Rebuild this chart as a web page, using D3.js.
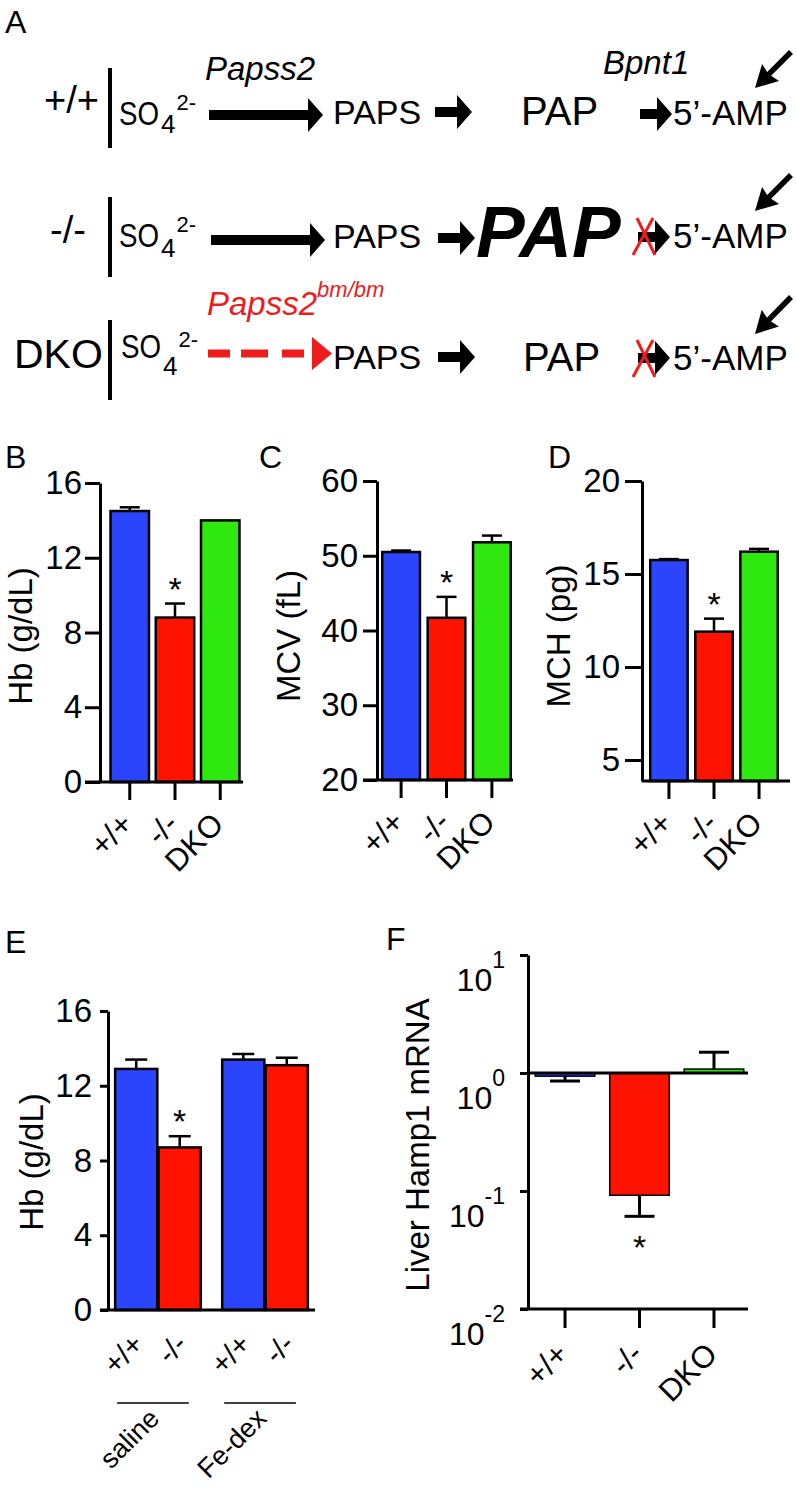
<!DOCTYPE html>
<html><head><meta charset="utf-8">
<script src="https://cdn.jsdelivr.net/npm/d3@7"></script>
<style>body{margin:0;background:#fff} svg{display:block} text{font-family:"Liberation Sans",Arial,Helvetica,sans-serif;fill:#000}</style>
</head><body>
<script>
// ---------------- data ----------------
const genotypes = ["+/+", "-/-", "DKO"];
const hbValues = [14.5, 8.8, 14.0];
const hbErrors = [0.2, 0.75, 0.0];
const mcvValues = [50.5, 41.7, 51.8];
const mcvErrors = [0.2, 2.8, 0.9];
const mchValues = [15.75, 11.9, 16.2];
const mchErrors = [0.05, 0.7, 0.15];
const significant = [false, true, false];

const treatGroups = ["saline", "Fe-dex"];
const treatGenotypes = ["+/+", "-/-"];
const treatHb = [[12.9, 8.7], [13.4, 13.1]];
const treatHbErrors = [[0.5, 0.6], [0.3, 0.4]];
const treatSignificant = [[false, true], [false, false]];

const hampValues = [0.94, 0.092, 1.08];
const hampErrorEnds = [0.855, 0.061, 1.5];

const hbTicks = [0, 4, 8, 12, 16];
const mcvTicks = [20, 30, 40, 50, 60];
const mchTicks = [5, 10, 15, 20];
const hampTickExponents = [-2, -1, 0, 1];

const colors = {"+/+": "#2a45fc", "-/-": "#fe1200", "DKO": "#2fe80f"};

// ---------------- setup ----------------
const svg = d3.select("body").append("svg").attr("width", 796).attr("height", 1488);
const AX = 3, BAR = 2.5;

function txt(g, x, y, s, size, o = {}) {
  const t = g.append("text").attr("x", x).attr("y", y).attr("font-size", size).text(s);
  if (o.anchor) t.attr("text-anchor", o.anchor);
  if (o.italic) t.attr("font-style", "italic");
  if (o.bold) t.attr("font-weight", "bold");
  if (o.fill) t.style("fill", o.fill);
  if (o.rotate !== undefined) t.attr("transform", `rotate(${o.rotate},${x},${y})`);
  return t;
}

// ---------------- panel A ----------------
const A = svg.append("g");
txt(A, 5, 33, "A", 32);

function blockArrow(g, x0, x1, yc, shaft, headLen, headHalf, fill) {
  const xh = x1 - headLen;
  const pts = [[x0, yc - shaft / 2], [xh, yc - shaft / 2], [xh, yc - headHalf], [x1, yc],
               [xh, yc + headHalf], [xh, yc + shaft / 2], [x0, yc + shaft / 2]];
  g.append("path").attr("d", d3.line()(pts) + "Z").attr("fill", fill || "#000");
}
function diagArrow(g, tx, ty, hx, hy) {
  const ang = Math.atan2(hy - ty, hx - tx);
  const L = Math.hypot(hx - tx, hy - ty);
  const gg = g.append("g").attr("transform", `translate(${tx},${ty}) rotate(${ang * 180 / Math.PI})`);
  gg.append("path").attr("d", d3.line()([[0, -2.8], [L - 20, -2.8], [L - 22, -12], [L, 0], [L - 22, 12], [L - 20, 2.8], [0, 2.8]]) + "Z");
}
function redX(g, x0, y0, x1, y1) {
  g.append("line").attr("x1", x0 + 4).attr("y1", y0).attr("x2", x1 - 2).attr("y2", y1).attr("stroke", "#ee1c1c").attr("stroke-width", 3);
  g.append("line").attr("x1", x1 - 4).attr("y1", y0).attr("x2", x0).attr("y2", y1).attr("stroke", "#ee1c1c").attr("stroke-width", 3);
}
function so4(g, x, base, subBase, supBase) {
  const t = g.append("text").attr("x", x).attr("y", base).attr("font-size", 33);
  t.append("tspan").attr("textLength", 40).attr("lengthAdjust", "spacingAndGlyphs").text("SO");
  t.append("tspan").attr("dx", 2).attr("dy", subBase - base).attr("font-size", 26).text("4");
  t.append("tspan").attr("dx", 1).attr("dy", supBase - subBase).attr("font-size", 22).text("2-");
}

// row 1
txt(A, 44, 113, "+/+", 38);
A.append("rect").attr("x", 108).attr("y", 68).attr("width", 4).attr("height", 80);
so4(A, 119, 125, 133, 110);
txt(A, 205, 80, "Papss2", 33, {italic: true});
blockArrow(A, 209, 323, 115, 10, 15, 17);
txt(A, 333, 124, "PAPS", 34);
blockArrow(A, 435, 472, 112, 10, 15, 17);
txt(A, 521, 125, "PAP", 40);
txt(A, 603, 74, "Bpnt1", 33, {italic: true});
blockArrow(A, 640, 672, 114, 10, 15, 17);
txt(A, 673, 125, "5\u2019-AMP", 35);
diagArrow(A, 791, 52, 755, 88);

// row 2
txt(A, 50, 243, "-/-", 38);
A.append("rect").attr("x", 108).attr("y", 197).attr("width", 4).attr("height", 80);
so4(A, 119, 247, 257, 232);
blockArrow(A, 211, 325, 240, 10, 15, 17);
txt(A, 333, 248, "PAPS", 34);
blockArrow(A, 438, 475, 238, 10, 15, 17);
txt(A, 476, 257, "PAP", 73, {italic: true, bold: true});
blockArrow(A, 638, 670, 237, 10, 15, 17);
redX(A, 633, 218, 657, 255);
txt(A, 673, 248, "5\u2019-AMP", 35);
diagArrow(A, 791, 175, 755, 211);

// row 3
txt(A, 14, 368, "DKO", 41);
A.append("rect").attr("x", 108).attr("y", 320).attr("width", 4).attr("height", 80);
so4(A, 121, 358, 375, 347);
const papRed = A.append("text").attr("x", 207).attr("y", 315).attr("font-size", 33).attr("font-style", "italic").style("fill", "#ee1c1c");
papRed.append("tspan").text("Papss2");
papRed.append("tspan").attr("dy", -18).attr("font-size", 22).text("bm/bm");
A.append("line").attr("x1", 208).attr("x2", 305).attr("y1", 353.5).attr("y2", 353.5)
  .attr("stroke", "#ee1c1c").attr("stroke-width", 8).attr("stroke-dasharray", "22,11,27,14,22,200");
A.append("path").attr("d", d3.line()([[312, 337], [332, 353.5], [312, 370]]) + "Z").attr("fill", "#ee1c1c");
txt(A, 333, 369, "PAPS", 34);
blockArrow(A, 438, 475, 357, 10, 15, 17);
txt(A, 523, 371, "PAP", 40);
blockArrow(A, 638, 670, 358, 10, 15, 17);
redX(A, 633, 340, 657, 377);
txt(A, 673, 370, "5\u2019-AMP", 35);
diagArrow(A, 791, 297, 755, 334);

// ---------------- bar helpers ----------------
function styleYAxis(g, size) {
  g.select(".domain").attr("stroke-width", AX);
  g.selectAll(".tick line").attr("stroke-width", AX);
  g.selectAll(".tick text").attr("font-size", size).attr("font-family", null).style("fill", "#000");
  g.attr("font-family", null);
}

function simplePanel(o) {
  const g = svg.append("g");
  txt(g, o.letter[1], o.letter[2], o.letter[0], 32);
  const y = d3.scaleLinear().domain(o.yDomain).range(o.yRange);
  const x = d3.scaleBand().domain(genotypes).range(o.xRange).paddingInner(o.pi).paddingOuter(o.po);
  const yBottom = o.yRange[0];
  g.selectAll(".bar").data(genotypes).enter().append("rect")
    .attr("x", d => x(d)).attr("width", x.bandwidth())
    .attr("y", (d, i) => y(o.values[i])).attr("height", (d, i) => yBottom - y(o.values[i]))
    .attr("fill", d => colors[d]).attr("stroke", "#000").attr("stroke-width", BAR);
  genotypes.forEach((d, i) => {
    if (o.errors[i] <= 0) return;
    const cx = x(d) + x.bandwidth() / 2, y0 = y(o.values[i]), y1 = y(o.values[i] + o.errors[i]);
    g.append("line").attr("x1", cx).attr("x2", cx).attr("y1", y0).attr("y2", y1).attr("stroke", "#000").attr("stroke-width", BAR);
    g.append("line").attr("x1", cx - 10).attr("x2", cx + 10).attr("y1", y1).attr("y2", y1).attr("stroke", "#000").attr("stroke-width", BAR);
    if (significant[i]) txt(g, cx, y1 - 22 + 19, "*", 34, {anchor: "middle"});
  });
  const ya = g.append("g").attr("transform", `translate(${o.axisX},0)`)
    .call(d3.axisLeft(y).tickValues(o.ticks).tickSize(o.tickLen).tickSizeOuter(0).tickPadding(o.tickPad));
  styleYAxis(ya, 33);
  g.append("line").attr("x1", o.xLine[0]).attr("x2", o.xLine[1]).attr("y1", yBottom).attr("y2", yBottom)
    .attr("stroke", "#000").attr("stroke-width", AX);
  const xa = g.append("g").attr("transform", `translate(0,${yBottom})`)
    .call(d3.axisBottom(x).tickSize(18).tickSizeOuter(0).tickFormat(""));
  xa.select(".domain").remove();
  xa.selectAll(".tick line").attr("stroke-width", AX);
  genotypes.forEach(d => {
    const px = x(d) + x.bandwidth() / 2 + 5, py = yBottom + 44;
    txt(g, px, py, d, 31, {anchor: "end", rotate: -45});
  });
  txt(g, o.title[1], o.title[2], o.title[0], 33, {anchor: "middle", rotate: -90});
}

simplePanel({letter: ["B", 5, 468], yDomain: [0, 16], yRange: [782, 483], ticks: hbTicks,
  xRange: [106, 244], pi: 0.15, po: 0.1, values: hbValues, errors: hbErrors,
  axisX: 100, tickLen: 15, tickPad: 3, xLine: [85, 243], title: ["Hb (g/dL)", 32, 636]});
simplePanel({letter: ["C", 259, 468], yDomain: [20, 60], yRange: [780, 481], ticks: mcvTicks,
  xRange: [380, 513], pi: 0.17, po: 0.05, values: mcvValues, errors: mcvErrors,
  axisX: 377, tickLen: 14, tickPad: 5, xLine: [363, 513], title: ["MCV (fL)", 300, 636]});
simplePanel({letter: ["D", 548, 468], yDomain: [3.87, 20], yRange: [781, 481], ticks: mchTicks,
  xRange: [648, 780], pi: 0.17, po: 0.05, values: mchValues, errors: mchErrors,
  axisX: 642, tickLen: 17, tickPad: 5, xLine: [642, 790], title: ["MCH (pg)", 570, 636]});

// ---------------- panel E ----------------
(function () {
  const g = svg.append("g");
  txt(g, 5, 953, "E", 32);
  const y = d3.scaleLinear().domain([0, 16]).range([1310, 1011]);
  const x0 = d3.scaleBand().domain(treatGroups).range([113, 310]).paddingInner(0.2).paddingOuter(0.02);
  const x1 = d3.scaleBand().domain(treatGenotypes).range([0, x0.bandwidth()]).paddingInner(0.03);
  treatGroups.forEach((grp, gi) => {
    treatGenotypes.forEach((gt, i) => {
      const bx = x0(grp) + x1(gt), v = treatHb[gi][i], e = treatHbErrors[gi][i];
      g.append("rect").attr("x", bx).attr("width", x1.bandwidth()).attr("y", y(v)).attr("height", y(0) - y(v))
        .attr("fill", colors[gt]).attr("stroke", "#000").attr("stroke-width", BAR);
      const cx = bx + x1.bandwidth() / 2;
      g.append("line").attr("x1", cx).attr("x2", cx).attr("y1", y(v)).attr("y2", y(v + e)).attr("stroke", "#000").attr("stroke-width", BAR);
      g.append("line").attr("x1", cx - 11).attr("x2", cx + 11).attr("y1", y(v + e)).attr("y2", y(v + e)).attr("stroke", "#000").attr("stroke-width", BAR);
      if (treatSignificant[gi][i]) txt(g, cx, y(v + e) - 22 + 19, "*", 34, {anchor: "middle"});
      txt(g, cx + 9, 1346, gt, 29, {anchor: "end", rotate: -45});
    });
    const gx = x0(grp);
    g.append("line").attr("x1", gx + 2).attr("x2", gx + x0.bandwidth() - 12).attr("y1", 1403).attr("y2", 1403)
      .attr("stroke", "#000").attr("stroke-width", 1.5);
    txt(g, gx + x0.bandwidth() / 2 + 3, 1420, grp, 27, {anchor: "end", rotate: -45});
  });
  const ya = g.append("g").attr("transform", "translate(108,0)")
    .call(d3.axisLeft(y).tickValues(hbTicks).tickSize(8).tickSizeOuter(0).tickPadding(8));
  styleYAxis(ya, 33);
  g.append("line").attr("x1", 100).attr("x2", 315).attr("y1", 1310).attr("y2", 1310).attr("stroke", "#000").attr("stroke-width", AX);
  txt(g, 43, 1162, "Hb (g/dL)", 33, {anchor: "middle", rotate: -90});
})();

// ---------------- panel F ----------------
(function () {
  const g = svg.append("g");
  txt(g, 386, 950, "F", 32);
  const y = d3.scaleLog().domain([0.01, 10]).range([1309, 955]);
  const x = d3.scaleBand().domain(genotypes).range([533, 746]).paddingInner(0.2).paddingOuter(0.03);
  genotypes.forEach((d, i) => {
    const v = hampValues[i], e = hampErrorEnds[i];
    const top = Math.min(y(v), y(1)), h = Math.abs(y(v) - y(1));
    g.append("rect").attr("x", x(d)).attr("width", x.bandwidth()).attr("y", top).attr("height", h)
      .attr("fill", colors[d]).attr("stroke", "#000").attr("stroke-width", 1.5);
    const cx = x(d) + x.bandwidth() / 2;
    g.append("line").attr("x1", cx).attr("x2", cx).attr("y1", y(v)).attr("y2", y(e)).attr("stroke", "#000").attr("stroke-width", AX);
    g.append("line").attr("x1", cx - 15).attr("x2", cx + 15).attr("y1", y(e)).attr("y2", y(e)).attr("stroke", "#000").attr("stroke-width", AX);
    if (significant[i]) txt(g, cx, y(e) + 24 + 19, "*", 34, {anchor: "middle"});
    txt(g, cx + 5, 1356, d, 31, {anchor: "end", rotate: -45});
  });
  g.append("line").attr("x1", 528).attr("x2", 748).attr("y1", y(1)).attr("y2", y(1)).attr("stroke", "#000").attr("stroke-width", AX);
  const ya = g.append("g").attr("transform", "translate(528,0)")
    .call(d3.axisLeft(y).tickValues(hampTickExponents.map(e => Math.pow(10, e))).tickSize(8).tickSizeOuter(0).tickFormat(""));
  ya.select(".domain").attr("stroke-width", AX);
  ya.selectAll(".tick line").attr("stroke-width", AX);
  hampTickExponents.forEach(e => {
    const ty = y(Math.pow(10, e));
    const t = g.append("text").attr("x", 505).attr("y", ty + 36).attr("text-anchor", "end").attr("font-size", 32);
    t.append("tspan").text("10");
    t.append("tspan").attr("dy", -23).attr("font-size", 23).text(String(e));
  });
  g.append("line").attr("x1", 520).attr("x2", 748).attr("y1", 1309).attr("y2", 1309).attr("stroke", "#000").attr("stroke-width", AX);
  const xa = g.append("g").attr("transform", "translate(0,1309)")
    .call(d3.axisBottom(x).tickSize(19).tickSizeOuter(0).tickFormat(""));
  xa.select(".domain").remove();
  xa.selectAll(".tick line").attr("stroke-width", AX);
  txt(g, 429, 1145, "Liver Hamp1 mRNA", 33, {anchor: "middle", rotate: -90});
})();
</script>
</body></html>
